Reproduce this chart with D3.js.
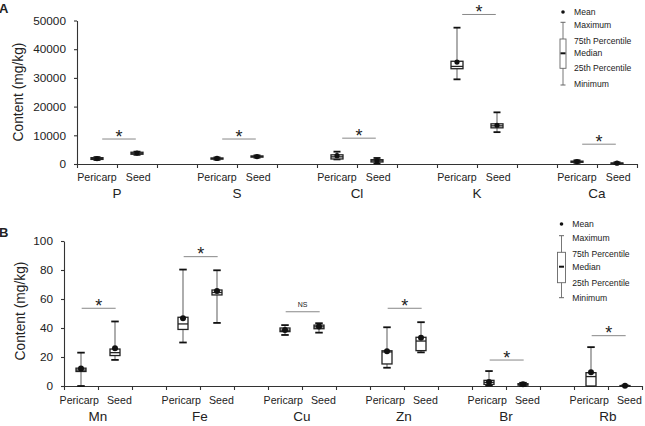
<!DOCTYPE html>
<html>
<head>
<meta charset="utf-8">
<script src="https://cdn.jsdelivr.net/npm/d3@7"></script>
<style>
  body { margin: 0; background: #fff; }
  text { font-family: "Liberation Sans", Arial, sans-serif; fill: #222; }
</style>
</head>
<body>
<svg width="645" height="426"></svg>
<script>
// tissues drawn in each element group
const tissues = ["Pericarp", "Seed"];

// Panel A (macro elements), values in pairs: pericarp, seed
const elementsA = ["P", "S", "Cl", "K", "Ca"];
const minA    = [1400, 3200, 1500, 2200, 1600, 230, 29500, 11100, 400, 50];
const q1A     = [1600, 3400, 1700, 2400, 1750, 700, 33200, 12600, 600, 150];
const medianA = [1900, 3750, 1900, 2600, 2500, 1100, 34000, 13300, 800, 250];
const q3A     = [2200, 4100, 2100, 2800, 3200, 1500, 35800, 14000, 1000, 350];
const maxA    = [2400, 4300, 2300, 3000, 4300, 2100, 47500, 18000, 1300, 600];
const meanA   = [1900, 3800, 1950, 2600, 2900, 1160, 35500, 13500, 850, 300];
const sigA    = ["*", "*", "*", "*", "*"];
const sigYA   = [8700, 8700, 9000, 52100, 6900];
const yTicksA = [0, 10000, 20000, 30000, 40000, 50000];

// Panel B (trace elements)
const elementsB = ["Mn", "Fe", "Cu", "Zn", "Br", "Rb"];
const minB    = [0, 18, 30, 43.5, 35.2, 36.8, 12.6, 23.2, 0.3, 0.1, 0, 0];
const q1B     = [10, 21, 39, 62.8, 37.5, 39.5, 15.2, 24.4, 1.1, 0.6, 0, 0];
const medianB = [11, 23, 42.8, 64.5, 38.5, 40.8, 23.5, 31, 2.5, 1, 6.5, 0];
const q3B     = [12.3, 25.5, 47.4, 66.2, 40, 42, 24.3, 33.6, 3.9, 1.6, 9.2, 0.3];
const maxB    = [23, 44.5, 80.3, 79.8, 42, 43.3, 40.5, 44, 10.3, 2.2, 26.8, 0.4];
const meanB   = [12, 26, 46.8, 65.5, 38.6, 41, 24, 33.2, 2.8, 1.2, 9.4, 0.1];
const sigB    = ["*", "*", "NS", "*", "*", "*"];
const sigYB   = [53.6, 89.2, 51.2, 53.6, 17.9, 34.7];
const yTicksB = [0, 20, 40, 60, 80, 100];

const svg = d3.select("svg");

function drawPanel(p) {
  const g = svg.append("g");
  const n = p.elements.length * 3 - 1;
  const x = d3.scaleLinear().domain([0, n]).range(p.xRange);
  const y = d3.scaleLinear().domain([0, p.yMax]).range(p.yRange);

  // axes
  const xAxis = g.append("g")
    .attr("transform", `translate(0,${p.yRange[0]})`)
    .call(d3.axisBottom(x).tickValues(d3.range(0, n + 1)).tickFormat("").tickSize(4).tickSizeOuter(0));
  xAxis.selectAll("path, line").attr("stroke", "#333").attr("stroke-width", 1.1);

  const yAxis = g.append("g")
    .attr("transform", `translate(${p.xRange[0]},0)`)
    .call(d3.axisLeft(y).tickValues(p.yTicks).tickFormat(d3.format("d"))
      .tickSize(3).tickSizeOuter(0).tickPadding(8));
  yAxis.selectAll("path, line").attr("stroke", "#333").attr("stroke-width", 1.1);
  yAxis.selectAll("text").attr("font-size", 11.8).attr("fill", "#222")
    .attr("font-family", "Liberation Sans, Arial, sans-serif");

  // y title
  g.append("text")
    .attr("transform", `translate(${p.titleX},${p.titleY}) rotate(-90)`)
    .attr("text-anchor", "middle")
    .attr("font-size", 13.8)
    .text("Content (mg/kg)");

  // panel letter
  g.append("text")
    .attr("x", -1).attr("y", p.letterY)
    .attr("font-size", 13).attr("font-weight", "bold")
    .text(p.letter);

  // boxes
  const boxes = [];
  p.elements.forEach((el, k) => {
    tissues.forEach((t, j) => {
      const i = k * 2 + j;
      boxes.push({
        pos: k * 3 + j + 0.5,
        min: p.min[i], q1: p.q1[i], median: p.median[i],
        q3: p.q3[i], max: p.max[i], mean: p.mean[i]
      });
    });
  });

  const bg = g.selectAll("g.box").data(boxes).join("g").attr("class", "box");
  bg.append("line")
    .attr("x1", d => x(d.pos)).attr("x2", d => x(d.pos))
    .attr("y1", d => y(d.min)).attr("y2", d => y(d.max))
    .attr("stroke", "#777").attr("stroke-width", 1.2);
  bg.selectAll("line.cap").data(d => [d, d].map((v, j) => ({ pos: d.pos, v: j ? d.max : d.min })))
    .join("line").attr("class", "cap")
    .attr("x1", d => x(d.pos) - p.capW / 2).attr("x2", d => x(d.pos) + p.capW / 2)
    .attr("y1", d => y(d.v)).attr("y2", d => y(d.v))
    .attr("stroke", "#111").attr("stroke-width", 1.8);
  bg.append("rect")
    .attr("x", d => x(d.pos) - p.boxW / 2).attr("width", p.boxW)
    .attr("y", d => y(d.q3)).attr("height", d => Math.max(0.5, y(d.q1) - y(d.q3)))
    .attr("fill", "#fff").attr("stroke", "#222").attr("stroke-width", 1.3);
  bg.append("line")
    .attr("x1", d => x(d.pos) - p.boxW / 2).attr("x2", d => x(d.pos) + p.boxW / 2)
    .attr("y1", d => y(d.median)).attr("y2", d => y(d.median))
    .attr("stroke", "#222").attr("stroke-width", 1.3);
  bg.append("circle")
    .attr("cx", d => x(d.pos)).attr("cy", d => y(d.mean))
    .attr("r", p.dotR).attr("fill", "#111");

  // x labels
  p.elements.forEach((el, k) => {
    tissues.forEach((t, j) => {
      g.append("text")
        .attr("x", x(k * 3 + j + 0.5 + p.tissueOff[j])).attr("y", p.tissueY)
        .attr("text-anchor", "middle").attr("font-size", 10.6)
        .text(t);
    });
    g.append("text")
      .attr("x", x(k * 3 + 1)).attr("y", p.elementY)
      .attr("text-anchor", "middle").attr("font-size", 13.5)
      .text(el);

    // significance
    const x1 = x(k * 3 + 0.5 + p.sigOff[0]);
    const x2 = x(k * 3 + 1.5 + p.sigOff[1]);
    const sy = y(p.sigY[k]);
    g.append("line")
      .attr("x1", x1).attr("x2", x2).attr("y1", sy).attr("y2", sy)
      .attr("stroke", "#888").attr("stroke-width", 1);
    const ns = p.sig[k] !== "*";
    g.append("text")
      .attr("x", (x1 + x2) / 2).attr("y", ns ? sy - 5 : sy + 3.5)
      .attr("text-anchor", "middle")
      .attr("font-size", ns ? 7 : 18)
      .attr("fill", ns ? "#555" : "#222")
      .text(p.sig[k]);
  });

  // legend
  const L = p.legend;
  const lg = g.append("g");
  lg.append("circle").attr("cx", L.cx).attr("cy", L.ys[0]).attr("r", 1.8).attr("fill", "#111");
  lg.append("line").attr("x1", L.cx).attr("x2", L.cx).attr("y1", L.ys[1]).attr("y2", L.ys[5])
    .attr("stroke", "#777").attr("stroke-width", 1);
  [L.ys[1], L.ys[5]].forEach(v => lg.append("line")
    .attr("x1", L.cx - 2.5).attr("x2", L.cx + 2.5).attr("y1", v).attr("y2", v)
    .attr("stroke", "#666").attr("stroke-width", 1));
  lg.append("rect").attr("x", L.cx - L.w / 2).attr("width", L.w)
    .attr("y", L.ys[2]).attr("height", L.ys[4] - L.ys[2])
    .attr("fill", "#fff").attr("stroke", "#666").attr("stroke-width", 0.9);
  lg.append("line").attr("x1", L.cx - 2.5).attr("x2", L.cx + 2.5).attr("y1", L.ys[3]).attr("y2", L.ys[3])
    .attr("stroke", "#111").attr("stroke-width", 2);
  ["Mean", "Maximum", "75th Percentile", "Median", "25th Percentile", "Minimum"].forEach((t, i) => {
    lg.append("text").attr("x", L.tx).attr("y", L.ty[i] + 3)
      .attr("font-size", 8.6).attr("fill", "#333").text(t);
  });
}

drawPanel({
  letter: "A", letterY: 13,
  elements: elementsA, min: minA, q1: q1A, median: medianA, q3: q3A, max: maxA, mean: meanA,
  sig: sigA, sigY: sigYA, sigOff: [0.13, -0.03],
  yMax: 50000, yTicks: yTicksA,
  xRange: [77, 637], yRange: [164, 20.5],
  boxW: 12, capW: 7, dotR: 2.6,
  titleX: 23, titleY: 92, tissueY: 181, elementY: 198, tissueOff: [0, 0.03],
  legend: { cx: 563, w: 6, tx: 574, ys: [12, 22.3, 39, 53.3, 68.3, 85], ty: [12, 25, 40.7, 53.3, 68.3, 84] }
});

drawPanel({
  letter: "B", letterY: 237,
  elements: elementsB, min: minB, q1: q1B, median: medianB, q3: q3B, max: maxB, mean: meanB,
  sig: sigB, sigY: sigYB, sigOff: [0.02, 0.02],
  yMax: 100, yTicks: yTicksB,
  xRange: [64, 642], yRange: [386, 241],
  boxW: 10, capW: 7.5, dotR: 3,
  titleX: 24.5, titleY: 311, tissueY: 404, elementY: 420.5, tissueOff: [-0.05, 0.13],
  legend: { cx: 561.5, w: 8, tx: 572.3, ys: [224, 235.7, 252.3, 266.7, 282.7, 297.7], ty: [224, 238.3, 254, 266.7, 282.7, 298.3] }
});
</script>
</body>
</html>
